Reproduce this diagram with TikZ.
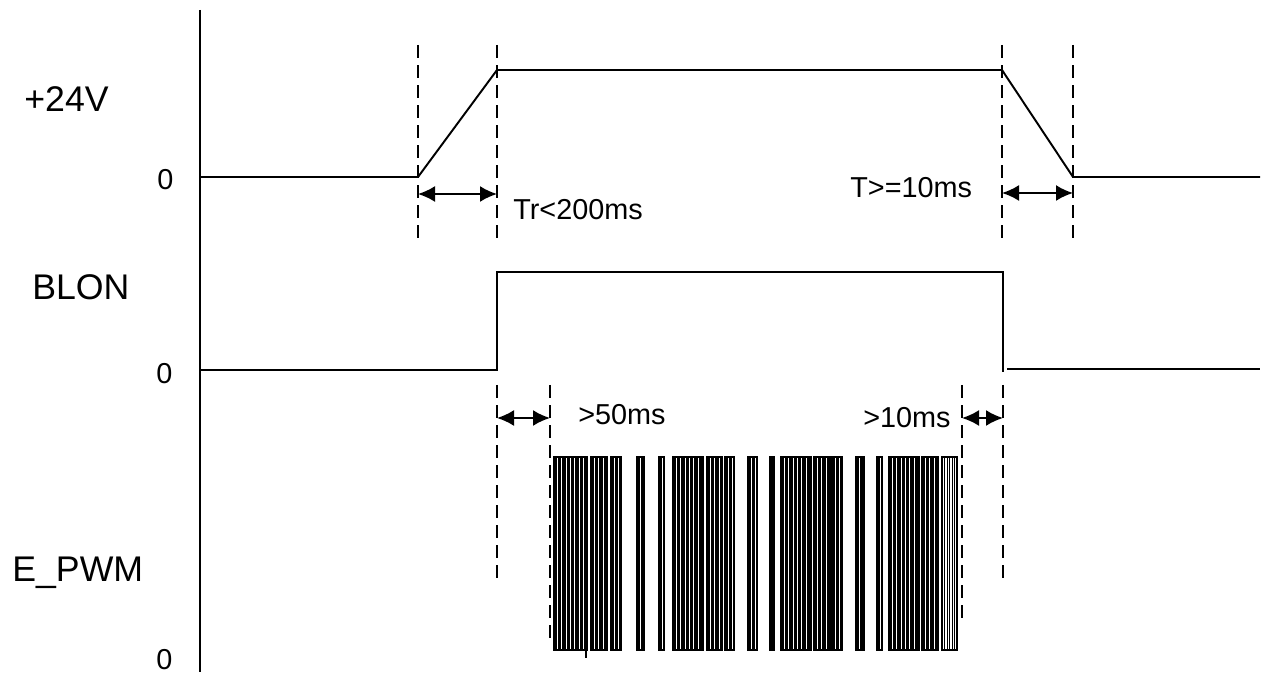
\documentclass[tikz,border=0pt]{standalone}
\usepackage{fontspec}
\setmainfont{Liberation Sans}
\usetikzlibrary{arrows.meta}

\newcommand{\biglabel}{\fontsize{20.3pt}{24pt}\selectfont}
\newcommand{\smalllabel}{\fontsize{16.4pt}{20pt}\selectfont}

\begin{document}
\begin{tikzpicture}[x=0.02cm,y=-0.02cm,
    signal/.style={line width=1.1pt},
    guide/.style={line width=0.9pt,dash pattern=on 7.4pt off 4pt},
    dimarrow/.style={line width=1.1pt,{Latex[length=0.34cm,width=0.32cm]}-{Latex[length=0.34cm,width=0.32cm]}},
    pwmedge/.style={line width=0.6pt},
    pwmline/.style={line width=0.25pt},
    signame/.style={anchor=base west,inner sep=0pt,font=\biglabel},
    note/.style={anchor=base west,inner sep=0pt,font=\smalllabel}]
\useasboundingbox (0,0) rectangle (1268,675);

% Coordinates for the time marks
\coordinate (t0) at (418,0);
\coordinate (t1) at (497,0);
\coordinate (t2) at (550,0);
\coordinate (t3) at (962,0);
\coordinate (t4) at (1003,0);
\coordinate (t5) at (1073,0);

% Vertical axis
\draw[signal] (200,10) -- (200,672);

% +24V supply
\draw[signal] (200,177) -- (418,177) -- (497,70) -- (1002,70) -- (1073,177) -- (1260,177);

% BLON
\draw[signal] (200,370) -- (497,370) -- (497,272) -- (1003,272) -- (1003,372);
\draw[signal] (1007,369) -- (1260,369);

% Dashed guides
\draw[guide] (t0 |- 0,45) -- (t0 |- 0,245);
\draw[guide] (t1 |- 0,45) -- (t1 |- 0,245);
\draw[guide] (1002,45) -- (1002,245);
\draw[guide] (t5 |- 0,45) -- (t5 |- 0,245);
\draw[guide] (t1 |- 0,385) -- (t1 |- 0,580);
\draw[guide] (t2 |- 0,385) -- (t2 |- 0,645);
\draw[guide] (t3 |- 0,385) -- (t3 |- 0,625);
\draw[guide] (t4 |- 0,385) -- (t4 |- 0,580);

% Timing arrows
\coordinate (a1) at (418,194);
\coordinate (a2) at (497,194);
\coordinate (a3) at (1002,193);
\coordinate (a4) at (1073,193);
\coordinate (a5) at (497,418);
\coordinate (a6) at (550,418);
\coordinate (a7) at (962,418);
\coordinate (a8) at (1003,418);
\draw[dimarrow] (a1) -- (a2);
\draw[dimarrow] (a3) -- (a4);
\draw[dimarrow] (a5) -- (a6);
\draw[dimarrow] (a7) -- (a8);

% E_PWM bursts
\foreach \a/\b in {554/587, 591/607, 611/621, 637/644, 659/664,
                   673/703, 707/722, 725/734, 748/757, 770/774,
                   781/811, 814/830, 832/842, 856/864, 877/882,
                   889/919, 922/938} {
    \pgfmathsetmacro{\aa}{\a+1.3}
    \foreach \x in {\a,\aa,...,\b}
        \draw[pwmline] (\x,457) -- (\x,650);
    \draw[pwmedge] (\a,457) rectangle (\b,650);
}
\foreach \x in {942,944.5,...,957}
    \draw[pwmline] (\x,457) -- (\x,650);
\draw[pwmedge] (942,457) rectangle (957,650);
\draw[pwmedge] (586,650) -- (586,658);

% Signal names
\node[signame] (lbl24) at (24,112) {+24V};
\node[signame] (lblblon) at (32,300) {BLON};
\node[signame] (lblpwm) at (12,581) {E\_PWM};
\node[note] (zero1) at (157,190) {0};
\node[note] (zero2) at (156,384) {0};
\node[note] (zero3) at (156,669) {0};

% Timing notes
\node[note] (trise) at (513,220) {Tr<200ms};
\node[note] (toff) at (850,198) {T>=10ms};
\node[note] (tpre) at (578,425) {>50ms};
\node[note] (tpost) at (863,428) {>10ms};

\end{tikzpicture}
\end{document}
